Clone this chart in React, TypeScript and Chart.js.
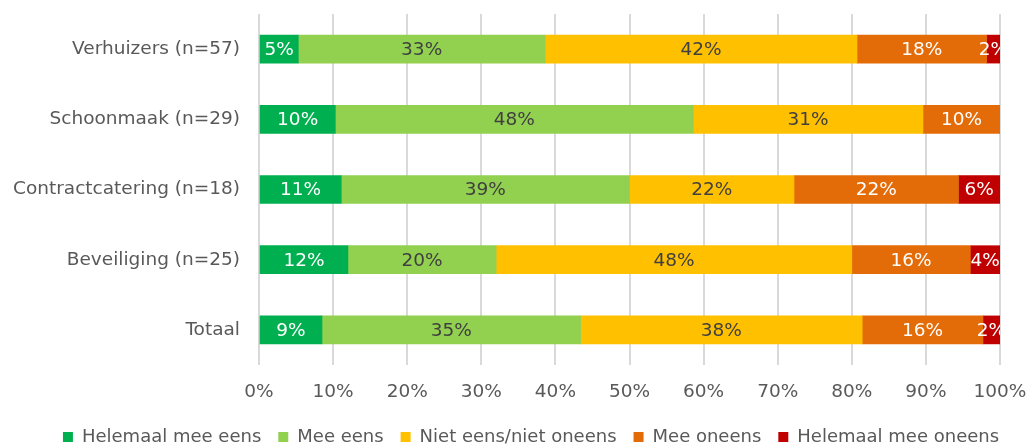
import React, { useEffect, useRef } from "react";
import { Chart, registerables } from "chart.js";

Chart.register(...registerables);

const categories = [
  "Verhuizers (n=57)",
  "Schoonmaak (n=29)",
  "Contractcatering (n=18)",
  "Beveiliging (n=25)",
  "Totaal",
];

const helemaalMeeEens = [5.3, 10.3, 11.1, 12.0, 8.5];
const meeEens = [33.3, 48.3, 38.9, 20.0, 34.9];
const nietEensNietOneens = [42.1, 31.0, 22.2, 48.0, 38.0];
const meeOneens = [17.5, 10.4, 22.2, 16.0, 16.3];
const helemaalMeeOneens = [1.8, 0, 5.6, 4.0, 2.3];

const seriesNames = [
  "Helemaal mee eens",
  "Mee eens",
  "Niet eens/niet oneens",
  "Mee oneens",
  "Helemaal mee oneens",
];
const seriesColors = ["#00B050", "#92D050", "#FFC000", "#E36C09", "#C00000"];
const labelColors = ["#FFFFFF", "#404040", "#404040", "#FFFFFF", "#FFFFFF"];

const FONT = "'DejaVu Sans', Verdana, sans-serif";
const FS = 18.5;

const dataLabelPlugin = {
  id: "dataLabels",
  afterLayout(chart: any) {
    const lg = chart.legend;
    if (lg) {
      lg.left += 31;
      lg.right += 31;
    }
  },
  afterDatasetsDraw(chart: any) {
    const { ctx, chartArea } = chart;
    ctx.save();
    ctx.beginPath();
    ctx.rect(chartArea.left, chartArea.top, chartArea.right - chartArea.left, chartArea.bottom - chartArea.top);
    ctx.clip();
    ctx.font = `${FS}px ${FONT}`;
    ctx.textAlign = "center";
    ctx.textBaseline = "middle";
    chart.data.datasets.forEach((ds: any, di: number) => {
      const meta = chart.getDatasetMeta(di);
      meta.data.forEach((el: any, i: number) => {
        const v = ds.data[i];
        if (!v) return;
        const cx = (el.x + el.base) / 2;
        ctx.fillStyle = labelColors[di];
        ctx.fillText(Math.round(v) + "%", cx, el.y + 1);
      });
    });
    ctx.restore();
  },
};

export default function App() {
  const ref = useRef<HTMLCanvasElement | null>(null);

  useEffect(() => {
    document.body.style.margin = "0";
    const series = [helemaalMeeEens, meeEens, nietEensNietOneens, meeOneens, helemaalMeeOneens];
    const chart = new Chart(ref.current as HTMLCanvasElement, {
      type: "bar",
      data: {
        labels: categories,
        datasets: series.map((d, i) => ({
          label: seriesNames[i],
          data: d,
          backgroundColor: seriesColors[i],
          borderWidth: 0,
          barThickness: 28,
        })),
      },
      options: {
        indexAxis: "y",
        responsive: false,
        animation: false,
        layout: { padding: { top: 14, right: 29, left: 0, bottom: 0 } },
        scales: {
          x: {
            stacked: true,
            min: 0,
            max: 100,
            ticks: {
              stepSize: 10,
              callback: (v: any) => v + "%",
              color: "#595959",
              font: { family: FONT, size: FS },
              padding: 16,
              maxRotation: 0,
            },
            grid: { color: "#D9D9D9", lineWidth: 2, drawTicks: false },
            border: { display: false },
            afterFit: (s: any) => {
              s.height = 46;
              s.paddingLeft = 0;
              s.paddingRight = 0;
            },
          },
          y: {
            stacked: true,
            ticks: {
              color: "#595959",
              font: { family: FONT, size: FS },
              padding: 19,
            },
            grid: { display: false, drawTicks: false },
            border: { display: false },
            afterFit: (s: any) => {
              s.width = 259;
              s.paddingTop = 0;
              s.paddingBottom = 0;
            },
          },
        },
        plugins: {
          legend: {
            position: "bottom",
            labels: {
              boxWidth: 10,
              boxHeight: 10,
              padding: 17,
              color: "#595959",
              font: { family: FONT, size: 18 },
            },
          },
          tooltip: { enabled: false },
        },
      },
      plugins: [dataLabelPlugin],
    });
    return () => chart.destroy();
  }, []);

  return (
    <div style={{ width: 1029, height: 446, overflow: "hidden", position: "relative" }}>
      <canvas ref={ref} width={1029} height={456} style={{ display: "block", width: 1029, height: 456 }} />
    </div>
  );
}
